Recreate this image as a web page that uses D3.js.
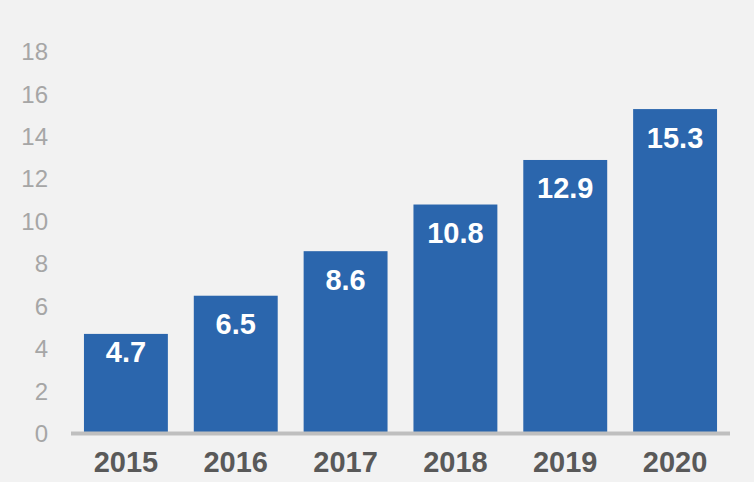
<!DOCTYPE html>
<html>
<head>
<meta charset="utf-8">
<script src="https://cdn.jsdelivr.net/npm/d3@7"></script>
<style>
  body { margin: 0; background: #f2f2f2; }
  svg { display: block; font-family: Arial, "Liberation Sans", sans-serif; }
</style>
</head>
<body>
<div class="chart"></div>
<script>
const FRAME_WIDTH = 754;
const FRAME_HEIGHT = 482;

const YEARS = ["2015", "2016", "2017", "2018", "2019", "2020"];
const VALUES = [4.7, 6.5, 8.6, 10.8, 12.9, 15.3];
const Y_TICKS = [0, 2, 4, 6, 8, 10, 12, 14, 16, 18];

const FRAME = d3.select(".chart")
                .append("svg")
                .attr("width", FRAME_WIDTH)
                .attr("height", FRAME_HEIGHT);

FRAME.append("rect")
    .attr("width", FRAME_WIDTH)
    .attr("height", FRAME_HEIGHT)
    .attr("fill", "#f2f2f2");

const X_SCALE = d3.scaleBand()
                  .domain(YEARS)
                  .range([71, 730])
                  .paddingInner(0.236)
                  .paddingOuter(0.118);

const Y_SCALE = d3.scaleLinear()
                  .domain([0, 18])
                  .range([433.6, 51.8]);

// y tick labels, no axis line
FRAME.append("g")
    .selectAll("text")
    .data(Y_TICKS)
    .enter()
    .append("text")
        .attr("x", 48)
        .attr("y", (d) => Y_SCALE(d))
        .attr("dy", "0.35em")
        .attr("text-anchor", "end")
        .attr("font-size", "24px")
        .attr("fill", "#a6a6a6")
        .text((d) => d);

// bars
FRAME.append("g")
    .selectAll("rect")
    .data(VALUES)
    .enter()
    .append("rect")
        .attr("x", (d, i) => X_SCALE(YEARS[i]))
        .attr("y", (d) => Y_SCALE(d))
        .attr("width", X_SCALE.bandwidth())
        .attr("height", (d) => Y_SCALE(0) - Y_SCALE(d))
        .attr("fill", "#2b66ad");

// value labels inside bars (short bar gets its label pushed up a bit)
FRAME.append("g")
    .selectAll("text")
    .data(VALUES)
    .enter()
    .append("text")
        .attr("x", (d, i) => X_SCALE(YEARS[i]) + X_SCALE.bandwidth() / 2)
        .attr("y", (d) => {
            let h = Y_SCALE(0) - Y_SCALE(d);
            return Y_SCALE(d) + (h < 110 ? 28 : 38.5);
        })
        .attr("text-anchor", "middle")
        .attr("font-size", "29px")
        .attr("font-weight", "bold")
        .attr("fill", "#ffffff")
        .text((d) => d.toFixed(1));

// baseline
FRAME.append("line")
    .attr("x1", 71)
    .attr("x2", 730)
    .attr("y1", Y_SCALE(0))
    .attr("y2", Y_SCALE(0))
    .attr("stroke", "#bfbfbf")
    .attr("stroke-width", 4);

// year labels
FRAME.append("g")
    .selectAll("text")
    .data(YEARS)
    .enter()
    .append("text")
        .attr("x", (d) => X_SCALE(d) + X_SCALE.bandwidth() / 2)
        .attr("y", 472)
        .attr("text-anchor", "middle")
        .attr("font-size", "29px")
        .attr("font-weight", "bold")
        .attr("fill", "#595959")
        .text((d) => d);
</script>
</body>
</html>
